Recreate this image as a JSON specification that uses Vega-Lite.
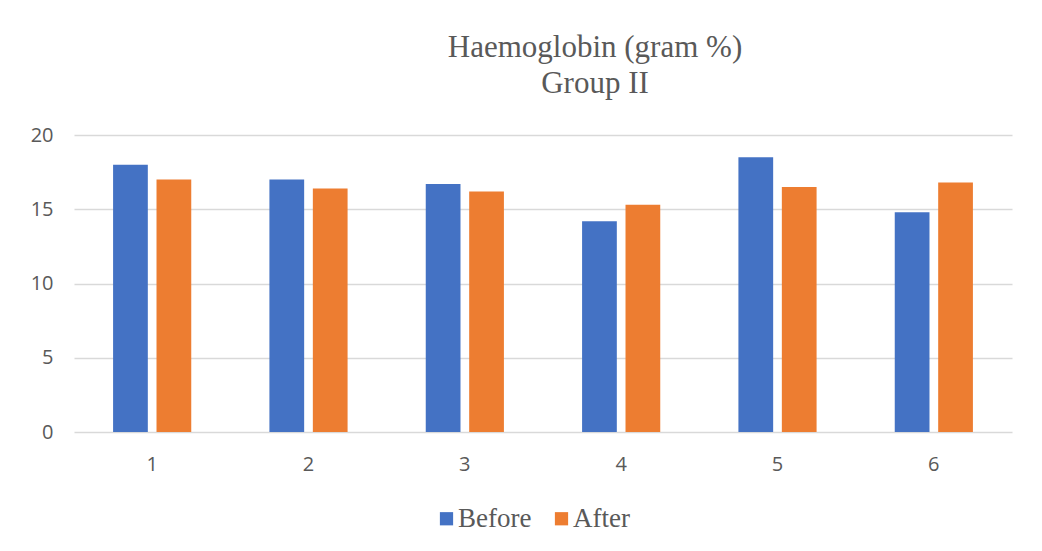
{
  "$schema": "https://vega.github.io/schema/vega-lite/v6.json",
  "autosize": "none",
  "width": 938,
  "height": 297,
  "padding": {"left": 74, "top": 135, "right": 30, "bottom": 119},
  "background": "white",
  "title": {
    "text": ["Haemoglobin (gram %)", "Group II"],
    "font": "Liberation Serif",
    "fontSize": 31,
    "fontWeight": "normal",
    "color": "#595959",
    "lineHeight": 36,
    "anchor": "middle",
    "dx": 52,
    "offset": 25
  },
  "data": {
    "values": [
      {"subject": "1", "phase": "Before", "hb": 18.0},
      {"subject": "1", "phase": "After", "hb": 17.0},
      {"subject": "2", "phase": "Before", "hb": 17.0},
      {"subject": "2", "phase": "After", "hb": 16.4},
      {"subject": "3", "phase": "Before", "hb": 16.7},
      {"subject": "3", "phase": "After", "hb": 16.2},
      {"subject": "4", "phase": "Before", "hb": 14.2},
      {"subject": "4", "phase": "After", "hb": 15.3},
      {"subject": "5", "phase": "Before", "hb": 18.5},
      {"subject": "5", "phase": "After", "hb": 16.5},
      {"subject": "6", "phase": "Before", "hb": 14.8},
      {"subject": "6", "phase": "After", "hb": 16.8}
    ]
  },
  "mark": {"type": "bar"},
  "encoding": {
    "x": {
      "field": "subject",
      "type": "nominal",
      "sort": null,
      "scale": {"paddingInner": 0.5, "paddingOuter": 0.25},
      "axis": {
        "title": null,
        "labelAngle": 0,
        "domain": false,
        "ticks": false,
        "labelPadding": 22,
        "labelFont": "Open Sans",
        "labelFontSize": 20,
        "labelColor": "#595959"
      }
    },
    "xOffset": {
      "field": "phase",
      "type": "nominal",
      "sort": ["Before", "After"],
      "scale": {"paddingInner": 0.2, "paddingOuter": 0}
    },
    "y": {
      "field": "hb",
      "type": "quantitative",
      "scale": {"domain": [0, 20], "nice": false},
      "axis": {
        "title": null,
        "values": [0, 5, 10, 15, 20],
        "domain": false,
        "ticks": false,
        "labelPadding": 21,
        "labelFont": "Open Sans",
        "labelFontSize": 20,
        "labelColor": "#595959",
        "gridColor": "#d9d9d9",
        "gridWidth": 1.4
      }
    },
    "color": {
      "field": "phase",
      "type": "nominal",
      "sort": ["Before", "After"],
      "scale": {"domain": ["Before", "After"], "range": ["#4472C4", "#ED7D31"]},
      "legend": {
        "title": null,
        "orient": "none",
        "direction": "horizontal",
        "legendX": 359,
        "legendY": 370,
        "symbolType": "square",
        "symbolSize": 175,
        "symbolStrokeWidth": 0,
        "labelFont": "Liberation Serif",
        "labelFontSize": 27,
        "labelColor": "#595959",
        "labelOffset": -2,
        "columnPadding": 16
      }
    }
  },
  "config": {"view": {"stroke": null}}
}
